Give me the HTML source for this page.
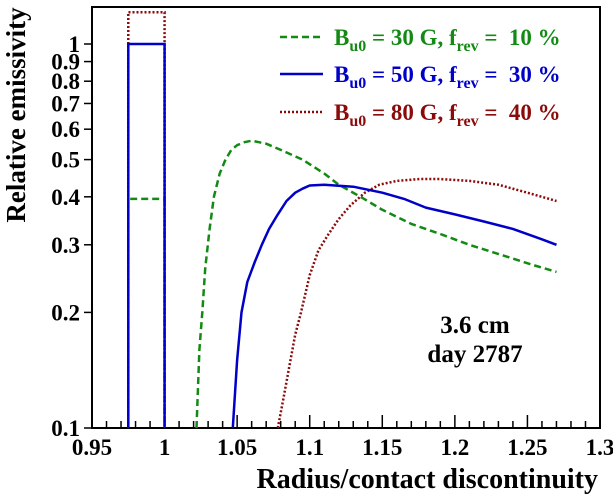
<!DOCTYPE html>
<html><head><meta charset="utf-8"><style>
body{margin:0;background:#fff;}
svg{display:block;font-family:"Liberation Serif",serif;font-weight:bold;}
</style></head><body>
<svg id="c" width="613" height="496"></svg>
<script>
const xTicks=[0.95,1,1.05,1.1,1.15,1.2,1.25,1.3];
const xTickLabels=["0.95","1","1.05","1.1","1.15","1.2","1.25","1.3"];
const yTicks=[0.1,0.2,0.3,0.4,0.5,0.6,0.7,0.8,0.9,1];
const yTickLabels=["0.1","0.2","0.3","0.4","0.5","0.6","0.7","0.8","0.9","1"];
const greenX=[1.022,1.024,1.026,1.028,1.031,1.034,1.038,1.042,1.046,1.05,1.055,1.06,1.065,1.07,1.08,1.095,1.11,1.12,1.135,1.15,1.17,1.19,1.21,1.235,1.255,1.27];
const greenY=[0.1,0.16,0.2,0.26,0.33,0.4,0.46,0.5,0.53,0.545,0.555,0.56,0.555,0.55,0.53,0.5,0.46,0.43,0.4,0.37,0.34,0.32,0.3,0.28,0.265,0.255];
const blueX=[1.047,1.05,1.053,1.057,1.062,1.067,1.072,1.078,1.084,1.09,1.095,1.1,1.11,1.13,1.15,1.165,1.18,1.2,1.22,1.24,1.26,1.27];
const blueY=[0.1,0.15,0.2,0.24,0.27,0.3,0.33,0.36,0.39,0.41,0.42,0.428,0.43,0.425,0.41,0.395,0.375,0.36,0.345,0.33,0.31,0.3];
const redX=[1.078,1.082,1.086,1.09,1.094,1.1,1.106,1.113,1.12,1.128,1.138,1.148,1.16,1.176,1.19,1.21,1.23,1.25,1.27];
const redY=[0.1,0.12,0.145,0.175,0.2,0.25,0.29,0.32,0.35,0.38,0.41,0.43,0.44,0.445,0.445,0.44,0.43,0.41,0.39];
const boxX=[0.975,1.0];
const boxGreen=0.395, boxBlue=1.0, boxRed=1.21;

const L=92,R=600,T=7,B=428;
const sx=v=>L+(v-0.95)/(0.35)*(R-L);
const sy=v=>44-Math.log10(v)*384;
const svg=document.getElementById('c');
const NS="http://www.w3.org/2000/svg";
function el(t,a,txt){const e=document.createElementNS(NS,t);for(const k in a)e.setAttribute(k,a[k]);if(txt!==undefined)e.textContent=txt;svg.appendChild(e);return e;}

const frame=el('rect',{x:L,y:T,width:R-L,height:B-T,fill:'none',stroke:'#000','stroke-width':2});


for(let i=0;i<=35;i++){const v=0.95+i*0.01;const major=i%5===0;
 const t=el('line',{x1:sx(v),x2:sx(v),y1:B,y2:B-(major?13:7),stroke:'#000','stroke-width':1.5});
 
 }
xTicks.forEach((v,i)=>{const t=el('text',{x:sx(v),y:455,'text-anchor':'middle','font-size':23},xTickLabels[i]);
 
 });
yTicks.forEach((v,i)=>{const t=el('line',{x1:L-8,x2:L,y1:sy(v),y2:sy(v),stroke:'#000','stroke-width':1.5});
 
 
 const lb=el('text',{x:L-12,y:sy(v)+8,'text-anchor':'end','font-size':23},yTickLabels[i]);
 
 });
const xt=el('text',{x:598,y:488,'text-anchor':'end','font-size':28},'Radius/contact discontinuity');


const yt=el('text',{x:0,y:0,transform:'translate(25,115) rotate(-90)','text-anchor':'middle','font-size':27},'Relative emissivity');



function path(xs,ys){return xs.map((x,i)=>(i?'L':'M')+sx(x).toFixed(1)+','+sy(ys[i]).toFixed(1)).join(' ');}
const styles={green:{c:'#138a13',d:'7,4',w:2.5},blue:{c:'#0000c8',d:'',w:2.5},red:{c:'#8b0a0a',d:'2,2',w:2.5}};
function boxPath(h){return 'M'+sx(boxX[0])+','+B+' L'+sx(boxX[0])+','+sy(h)+' L'+sx(boxX[1])+','+sy(h)+' L'+sx(boxX[1])+','+B;}
[['red',redX,redY,boxRed],['green',greenX,greenY,boxGreen],['blue',blueX,blueY,boxBlue]].forEach(([k,xs,ys,h])=>{
 const s=styles[k];
 const b=el('path',{d:boxPath(h),fill:'none',stroke:s.c,'stroke-width':s.w,'stroke-dasharray':s.d});
 
 
 const p=el('path',{d:path(xs,ys),fill:'none',stroke:s.c,'stroke-width':s.w,'stroke-dasharray':s.d,'stroke-linejoin':'round'});
 
 
});
const leg=[['green','30','10',45],['blue','50','30',82],['red','80','40',120]];
leg.forEach(([k,b,f,y])=>{const s=styles[k];
 const l=el('line',{x1:280,x2:323,y1:y-8,y2:y-8,stroke:s.c,'stroke-width':s.w,'stroke-dasharray':s.d});
 
 
 const t=el('text',{x:334,y:y,'font-size':23,fill:s.c,'xml:space':'preserve',style:'white-space:pre'});
 t.innerHTML='B<tspan font-size="16" dy="6">u0</tspan><tspan dy="-6"> = '+b+' G, f</tspan><tspan font-size="16" dy="6">rev</tspan><tspan dy="-6"> =  '+f+' %</tspan>';
 
 });
const a1=el('text',{x:475,y:333,'text-anchor':'middle','font-size':25},'3.6 cm');


const a2=el('text',{x:475,y:362,'text-anchor':'middle','font-size':25},'day 2787');


</script>
</body></html>
